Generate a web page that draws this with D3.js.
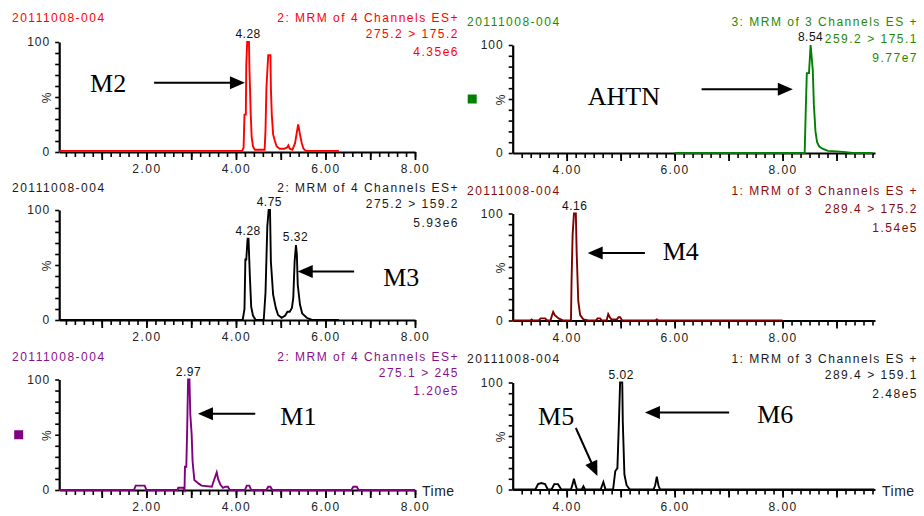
<!DOCTYPE html>
<html>
<head>
<meta charset="utf-8">
<script src="https://cdn.jsdelivr.net/npm/d3@7"></script>
<style>
  body { margin: 0; background: #fff; }
  svg { display: block; }
  .hdr { font-family: "Liberation Sans", Arial, sans-serif; font-size: 12px; letter-spacing: 1.5px; }
  .tick text { font-family: "Liberation Sans", Arial, sans-serif; font-size: 12px; fill: #222; }
  .note { font-family: "Liberation Serif", "Times New Roman", serif; font-size: 26px; fill: #000; }
</style>
</head>
<body>
<div id="chart"></div>
<script>
// ---- chromatogram traces (retention time in min, relative intensity in %) ----
const m2Time  = [0.05, 4.14, 4.17, 4.19, 4.22, 4.23, 4.25, 4.29, 4.30, 4.33, 4.35, 4.38, 4.42, 4.55, 4.64, 4.66, 4.68, 4.72, 4.77, 4.78, 4.80, 4.83, 4.87, 4.91, 4.98, 5.08, 5.14, 5.17, 5.20, 5.26, 5.32, 5.36, 5.39, 5.43, 5.47, 5.51, 5.56, 5.70, 6.30];
const m2Inten = [1, 1, 4, 34, 34, 79, 100, 100, 77, 34, 14, 5, 2, 2, 2, 20, 58, 88, 88, 58, 34, 16, 10, 5, 3, 3, 4, 6, 3, 2, 8, 18, 25, 16, 8, 3, 1, 1, 1];

const m3Time  = [0.05, 4.15, 4.19, 4.21, 4.23, 4.26, 4.28, 4.31, 4.34, 4.38, 4.44, 4.62, 4.66, 4.70, 4.73, 4.76, 4.78, 4.83, 4.89, 4.94, 5.02, 5.10, 5.15, 5.20, 5.25, 5.28, 5.31, 5.34, 5.36, 5.38, 5.43, 5.48, 5.58, 5.70, 6.30];
const m3Inten = [0, 0, 10, 55, 55, 74, 74, 40, 12, 4, 0, 0, 25, 85, 100, 100, 53, 23, 11, 4.5, 2, 4, 7.5, 7.5, 11, 20, 53, 68, 60, 32, 14, 6, 2, 0, 0];

const m1Time  = [0.05, 1.72, 1.76, 1.96, 2.00, 2.69, 2.71, 2.82, 2.85, 2.86, 2.89, 2.91, 2.93, 2.96, 2.98, 3.01, 3.03, 3.07, 3.16, 3.23, 3.46, 3.51, 3.57, 3.60, 3.65, 3.71, 3.76, 3.82, 3.86, 4.20, 4.24, 4.30, 4.34, 4.68, 4.72, 4.77, 4.81, 6.58, 6.62, 6.70, 6.74, 8.00];
const m1Inten = [0, 0, 4, 4, 0, 0, 2, 2, 0, 21, 21, 56, 100, 100, 68, 50, 26, 9, 6, 4, 3, 9, 16, 10, 5, 2, 3, 3, 0, 0, 4, 4, 0, 0, 3, 3, 0, 0, 3, 3, 0, 0];

const ahtnTime  = [6.00, 8.41, 8.43, 8.45, 8.49, 8.52, 8.56, 8.58, 8.61, 8.64, 8.68, 8.74, 8.84, 9.00, 9.12, 9.30, 9.67];
const ahtnInten = [0, 0, 40, 74, 74, 100, 77, 45, 20, 10, 6, 4, 2, 1.5, 1, 0, 0];

const m4Time  = [3.00, 3.33, 3.35, 3.38, 3.48, 3.52, 3.60, 3.64, 3.70, 3.72, 3.75, 3.78, 3.85, 3.94, 4.08, 4.09, 4.11, 4.135, 4.17, 4.185, 4.215, 4.25, 4.31, 4.40, 4.54, 4.57, 4.62, 4.65, 4.74, 4.77, 4.80, 4.83, 4.93, 4.96, 4.99, 5.03, 5.64, 5.67, 5.70, 8.00];
const m4Inten = [0, 0, 1, 0, 0, 2, 2, 0, 0, 3.5, 8, 5, 2, 0, 0, 36, 80, 100, 100, 64, 18, 5, 1, 0, 0, 2, 2, 0, 0, 6, 3, 1, 1, 3, 3, 0, 0, 1, 0, 0];

const m56Time  = [3.00, 3.42, 3.47, 3.53, 3.60, 3.65, 3.72, 3.77, 3.84, 3.90, 4.08, 4.11, 4.135, 4.16, 4.19, 4.28, 4.31, 4.34, 4.63, 4.68, 4.72, 4.86, 4.90, 4.94, 4.97, 4.99, 5.03, 5.04, 5.07, 5.11, 5.17, 5.61, 5.64, 5.67, 5.70, 5.73, 9.70];
const m56Inten = [0, 0, 5, 6, 5, 0, 0, 5, 5, 0, 0, 5, 10, 5, 0, 0, 3, 0, 0, 7, 0, 0, 17, 20, 66, 100, 100, 63, 14, 4, 0, 0, 4, 12, 4, 0, 0];

// ---- header texts, in panel order (row by row, left then right) ----
const sampleIds   = ['20111008-004', '20111008-004', '20111008-004', '20111008-004', '20111008-004', '20111008-004'];
const funcTitles  = ['2: MRM of 4 Channels ES+', '3: MRM of 3 Channels ES +', '2: MRM of 4 Channels ES+', '1: MRM of 3 Channels ES +', '2: MRM of 4 Channels ES+', '1: MRM of 3 Channels ES +'];
const transitions = ['275.2 > 175.2', '259.2 > 175.1', '275.2 > 159.2', '289.4 > 175.2', '275.1 > 245', '289.4 > 159.1'];
const intensities = ['4.35e6', '9.77e7', '5.93e6', '1.54e5', '1.20e5', '2.48e5'];

// ---- peak apex labels: [retention time, height %, label] ----
const m2Peaks   = [[4.27, 100, '4.28']];
const ahtnPeaks = [[8.52, 100, '8.54']];
const m3Peaks   = [[4.27, 74, '4.28'], [4.745, 100, '4.75'], [5.33, 68, '5.32']];
const m4Peaks   = [[4.15, 100, '4.16']];
const m1Peaks   = [[2.94, 100, '2.97']];
const m56Peaks  = [[5.01, 100, '5.02']];

// ---- compound annotations: label, label pos [t, %], arrow from [t, %] to [t, %] ----
const m2Notes   = [['M2', [0.74, 55], [2.17, 63], [4.20, 63]]];
const ahtnNotes = [['AHTN', [4.39, 44], [6.50, 59], [8.19, 59]]];
const m3Notes   = [['M3', [7.29, 31], [6.64, 44], [5.38, 44]]];
const m4Notes   = [['M4', [5.78, 56.5], [5.45, 63], [4.39, 63]]];
const m1Notes   = [['M1', [4.99, 59], [4.43, 69], [3.15, 69]]];
const m56Notes  = [['M6', [7.53, 62], [7.01, 72], [5.45, 72]], ['M5', [3.47, 60], [4.17, 57.5], [4.57, 12.6]]];

// column and row layout
const leftCol  = {xDomain: [0.05, 8], xRange: [59.2, 415], minor: d3.range(1, 41).map(i => i * 0.2), major: d3.range(1, 9), labels: [2, 4, 6, 8], hdrLeft: 12, hdrRight: 459};
const rightCol = {xDomain: [3, 9.713], xRange: [512.7, 875], minor: d3.range(1, 41).map(i => 3 + i / 6), major: d3.range(4, 10), labels: [4, 6, 8], hdrLeft: 467, hdrRight: 918};

const panels = [
    {col: leftCol,  yRange: [152, 42],     hdrY: [21.7, 37.7, 56],   time: m2Time,   inten: m2Inten,   color: '#ff0000', hdrColor: '#ff0000', peaks: m2Peaks,   notes: m2Notes},
    {col: rightCol, yRange: [153, 45],     hdrY: [26, 43.3, 61.5],   time: ahtnTime, inten: ahtnInten, color: '#008000', hdrColor: '#1f8a00', peaks: ahtnPeaks, notes: ahtnNotes, square: true},
    {col: leftCol,  yRange: [320, 210],    hdrY: [191.7, 208, 226.5], time: m3Time,  inten: m3Inten,   color: '#000000', hdrColor: '#1a1a1a', peaks: m3Peaks,   notes: m3Notes},
    {col: rightCol, yRange: [320.5, 213.5], hdrY: [195, 212.7, 231.5], time: m4Time, inten: m4Inten,   color: '#800000', hdrColor: '#8a0a0a', peaks: m4Peaks,   notes: m4Notes},
    {col: leftCol,  yRange: [490, 379.5],  hdrY: [360.7, 377, 395],  time: m1Time,   inten: m1Inten,   color: '#800080', hdrColor: '#8a108a', peaks: m1Peaks,   notes: m1Notes, square: true, timeLabel: true},
    {col: rightCol, yRange: [489.5, 382.5], hdrY: [363, 379, 398],   time: m56Time,  inten: m56Inten,  color: '#000000', hdrColor: '#1a1a1a', peaks: m56Peaks,  notes: m56Notes, timeLabel: true}
];

const svg = d3.select('#chart').append('svg')
    .attr('width', 924)
    .attr('height', 516);

panels.forEach((p, i) => drawPanel(p, i));

function drawPanel(p, i) {
    const x = d3.scaleLinear().domain(p.col.xDomain).range(p.col.xRange);
    const y = d3.scaleLinear().domain([0, 100]).range(p.yRange);
    const g = svg.append('g');
    const y0 = y(0);

    // x axis: minor ticks, then integer ticks with labels every 2 min
    g.append('g')
        .attr('transform', `translate(0,${y0})`)
        .call(d3.axisBottom(x).tickValues(p.col.minor).tickSize(5).tickSizeOuter(0).tickFormat(''))
        .call(a => a.select('.domain').attr('stroke-width', 2.2))
        .call(a => a.selectAll('line').attr('stroke-width', 1.6));
    g.append('g')
        .attr('transform', `translate(0,${y0})`)
        .call(d3.axisBottom(x).tickValues(p.col.major).tickSize(8).tickSizeOuter(0).tickPadding(4.5)
            .tickFormat(d => p.col.labels.includes(d) ? d3.format('.2f')(d) : ''))
        .call(a => a.select('.domain').remove())
        .call(a => a.selectAll('line').attr('stroke-width', 1.8))
        .call(a => a.selectAll('text').style('letter-spacing', '1.5px'));

    // y axis: 0 - 100 %
    const yAxis = g.append('g')
        .attr('transform', `translate(${x.range()[0]},0)`)
        .call(d3.axisLeft(y).tickValues(d3.range(0, 101, 10)).tickSize(4).tickSizeOuter(0).tickPadding(5)
            .tickFormat(d => d === 100 ? '100' : d === 0 ? '0' : d === 50 ? '%' : ''));
    yAxis.select('.domain').attr('stroke-width', 2.2);
    yAxis.selectAll('line').attr('stroke-width', 1.6);
    yAxis.selectAll('text').style('letter-spacing', '1px');
    yAxis.selectAll('.tick').filter(d => d === 50).select('text')
        .attr('transform', 'rotate(-90)')
        .attr('x', 0).attr('y', -12)
        .attr('text-anchor', 'middle')
        .attr('dy', '0.35em');

    // trace
    const pts = p.time.map((t, k) => [t, p.inten[k]]);
    g.append('path')
        .datum(pts)
        .attr('fill', 'none')
        .attr('stroke', p.color)
        .attr('stroke-width', 1.9)
        .attr('stroke-linejoin', 'miter')
        .attr('d', d3.line().x(d => x(d[0])).y(d => y(d[1])));

    // peak apex labels
    g.selectAll('.peak')
        .data(p.peaks)
        .enter()
        .append('text')
            .attr('class', 'hdr')
            .attr('x', d => x(d[0]))
            .attr('y', d => y(d[1]) - 4)
            .attr('text-anchor', 'middle')
            .style('letter-spacing', '0.5px')
            .attr('fill', '#111')
            .text(d => d[2]);

    // headers
    g.append('text').attr('class', 'hdr')
        .attr('x', p.col.hdrLeft).attr('y', p.hdrY[0])
        .attr('fill', p.hdrColor)
        .text(sampleIds[i]);
    [funcTitles[i], transitions[i], intensities[i]].forEach((s, k) => {
        g.append('text').attr('class', 'hdr')
            .attr('x', p.col.hdrRight).attr('y', p.hdrY[k])
            .attr('text-anchor', 'end')
            .attr('fill', p.hdrColor)
            .text(s);
    });

    // small channel marker square
    if (p.square) {
        g.append('rect')
            .attr('x', x.range()[0] - 45).attr('y', y(50) - 4.5)
            .attr('width', 9).attr('height', 9)
            .attr('fill', p.color);
    }

    if (p.timeLabel) {
        g.append('text').attr('class', 'hdr')
            .attr('x', x.range()[1] + 7).attr('y', y0 + 6)
            .style('font-size', '14px').style('letter-spacing', '0.5px')
            .attr('fill', '#222')
            .text('Time');
    }

    // compound labels with arrows
    p.notes.forEach(n => {
        g.append('text').attr('class', 'note')
            .attr('x', x(n[1][0])).attr('y', y(n[1][1]))
            .text(n[0]);
        drawArrow(g, x(n[2][0]), y(n[2][1]), x(n[3][0]), y(n[3][1]));
    });
}

function drawArrow(g, x1, y1, x2, y2) {
    const a = Math.atan2(y2 - y1, x2 - x1);
    const len = 15, half = 6.5;
    const bx = x2 - len * Math.cos(a), by = y2 - len * Math.sin(a);
    g.append('line')
        .attr('x1', x1).attr('y1', y1)
        .attr('x2', bx + 1 * Math.cos(a)).attr('y2', by + 1 * Math.sin(a))
        .attr('stroke', '#000')
        .attr('stroke-width', 2);
    g.append('path')
        .attr('d', `M${x2},${y2}L${bx - half * Math.sin(a)},${by + half * Math.cos(a)}L${bx + half * Math.sin(a)},${by - half * Math.cos(a)}Z`)
        .attr('fill', '#000');
}
</script>
</body>
</html>
